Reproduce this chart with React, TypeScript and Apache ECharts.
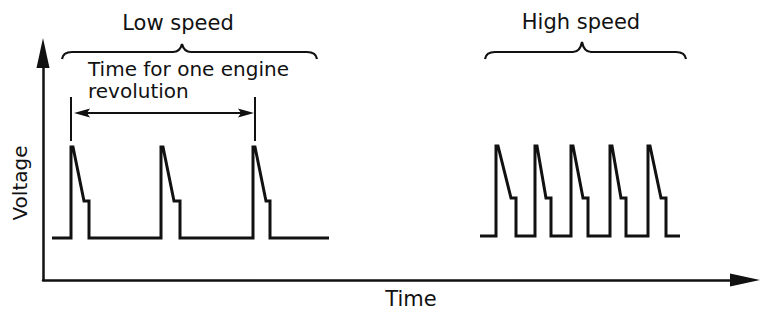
import React, { useEffect, useRef } from "react";
import * as echarts from "echarts";

// Waveform points (time / voltage in arbitrary units)
const lowSpeedTime = [9, 28, 28, 30, 41, 46, 46, 118, 118, 120, 131, 137, 137, 210, 210, 212, 223, 227, 227, 286];
const lowSpeedVoltage = [42, 42, 133, 133, 79, 79, 42, 42, 133, 133, 79, 79, 42, 42, 133, 133, 79, 79, 42, 42];

const highSpeedTime = [
  437,
  453, 453, 455, 468, 473, 473,
  492, 492, 494, 503, 508, 508,
  528, 528, 530, 540, 545, 545,
  567, 567, 569, 578, 583, 583,
  605, 605, 607, 618, 623, 623,
  637,
];
const highSpeedVoltage = [
  44,
  44, 134, 134, 82, 82, 44,
  44, 134, 134, 82, 82, 44,
  44, 134, 134, 82, 82, 44,
  44, 134, 134, 82, 82, 44,
  44, 134, 134, 82, 82, 44,
  44,
];

// Braces: [start, end, cusp, line level, end level, cusp level]
const braceLow = [19, 274, 139, 228, 221, 236];
const braceHigh = [442, 643, 539, 228, 221, 238];
// Revolution marker: [start, end, arrow level, tick top, tick bottom]
const revolutionMarker = [28, 212, 167, 183, 139];

const labels = {
  low: "Low speed",
  high: "High speed",
  rev1: "Time for one engine",
  rev2: "revolution",
  yName: "Voltage",
  xName: "Time",
};

const INK = "#111";
const FONT = '"DejaVu Sans", sans-serif';

export default function App() {
  const ref = useRef<HTMLDivElement>(null);

  useEffect(() => {
    document.body.style.margin = "0";
    const chart = echarts.init(ref.current!, null, { renderer: "svg" });

    const lowData = lowSpeedTime.map((t, i) => [t, lowSpeedVoltage[i]]);
    const highData = highSpeedTime.map((t, i) => [t, highSpeedVoltage[i]]);

    const axisCommon = {
      type: "value" as const,
      axisTick: { show: false },
      axisLabel: { show: false },
      splitLine: { show: false },
      axisLine: {
        show: true,
        symbol: ["none", "triangle"],
        symbolSize: [13, 30],
        lineStyle: { color: INK, width: 2.5 },
      },
    };

    const text = (t: string, x: number, y: number, size: number, align: string, rotation = 0) => ({
      type: "text",
      x,
      y,
      rotation,
      silent: true,
      style: {
        text: t,
        font: `${size}px ${FONT}`,
        fill: INK,
        align,
        verticalAlign: "middle",
      },
    });

    chart.setOption({
      animation: false,
      backgroundColor: "#fff",
      grid: { left: 43, right: 21, top: 53, bottom: 30 },
      xAxis: { ...axisCommon, min: 0, max: 702 },
      yAxis: { ...axisCommon, min: 0, max: 227 },
      series: [
        {
          type: "line",
          data: lowData,
          showSymbol: false,
          lineStyle: { color: INK, width: 3, join: "miter", miterLimit: 10 },
        },
        {
          type: "line",
          data: highData,
          showSymbol: false,
          lineStyle: { color: INK, width: 3, join: "miter", miterLimit: 10 },
        },
        {
          type: "custom",
          clip: false,
          data: [braceLow, braceHigh],
          renderItem: (params: any, api: any) => {
            const x1 = api.value(0), x2 = api.value(1), xm = api.value(2);
            const yl = api.value(3), ye = api.value(4), yc = api.value(5);
            const [ax, ay] = api.coord([x1, ye]);
            const [, ly] = api.coord([x1, yl]);
            const [bx] = api.coord([x2, ye]);
            const [mx, cy] = api.coord([xm, yc]);
            const d =
              `M${ax},${ay} Q${ax + 1},${ly} ${ax + 10},${ly} L${mx - 9},${ly} ` +
              `Q${mx - 2},${ly} ${mx},${cy} Q${mx + 2},${ly} ${mx + 9},${ly} ` +
              `L${bx - 10},${ly} Q${bx - 1},${ly} ${bx},${ay}`;
            return {
              type: "path",
              shape: { pathData: d },
              style: { stroke: INK, lineWidth: 2.2, fill: "none" },
            };
          },
        },
        {
          type: "custom",
          clip: false,
          data: [revolutionMarker],
          renderItem: (params: any, api: any) => {
            const x1 = api.value(0), x2 = api.value(1), y = api.value(2);
            const yt = api.value(3), yb = api.value(4);
            const [lx, ay] = api.coord([x1, y]);
            const [rx] = api.coord([x2, y]);
            const [, ty] = api.coord([x1, yt]);
            const [, by] = api.coord([x1, yb]);
            const ltip = lx + 3, rtip = rx - 1, len = 16, hw = 4.5;
            return {
              type: "group",
              children: [
                { type: "line", shape: { x1: lx, y1: ty, x2: lx, y2: by }, style: { stroke: INK, lineWidth: 2 } },
                { type: "line", shape: { x1: rx, y1: ty, x2: rx, y2: by }, style: { stroke: INK, lineWidth: 2 } },
                { type: "line", shape: { x1: ltip + 8, y1: ay, x2: rtip - 8, y2: ay }, style: { stroke: INK, lineWidth: 2.2 } },
                {
                  type: "polygon",
                  shape: { points: [[ltip, ay], [ltip + len, ay - hw], [ltip + len - 3, ay], [ltip + len, ay + hw]] },
                  style: { fill: INK },
                },
                {
                  type: "polygon",
                  shape: { points: [[rtip, ay], [rtip - len, ay - hw], [rtip - len + 3, ay], [rtip - len, ay + hw]] },
                  style: { fill: INK },
                },
              ],
            };
          },
        },
      ],
      graphic: [
        text(labels.low, 178, 23, 21, "center"),
        text(labels.high, 581, 22, 21, "center"),
        text(labels.rev1, 88, 69, 20, "left"),
        text(labels.rev2, 88, 91, 20, "left"),
        text(labels.yName, 20, 183, 20, "center", Math.PI / 2),
        text(labels.xName, 411, 299, 21, "center"),
      ],
    });

    return () => chart.dispose();
  }, []);

  return <div ref={ref} style={{ width: 766, height: 310 }} />;
}
